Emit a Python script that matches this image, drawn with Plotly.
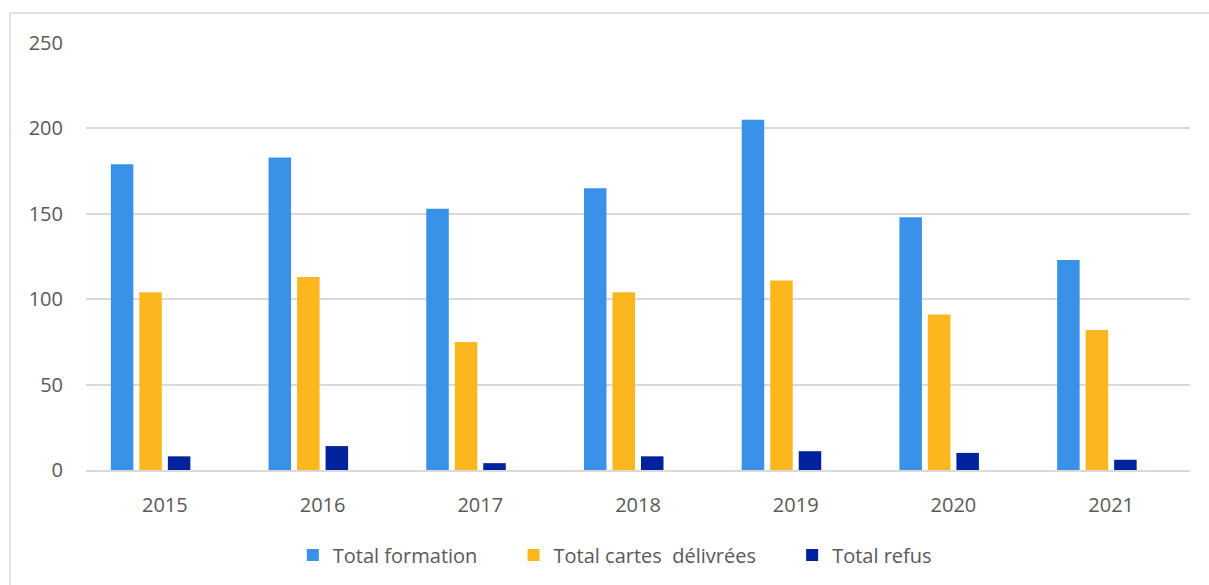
import plotly.graph_objects as go

years = ["2015", "2016", "2017", "2018", "2019", "2020", "2021"]
total_formation = [179, 183, 153, 165, 205, 148, 123]
total_cartes = [104, 113, 75, 104, 111, 91, 82]
total_refus = [8, 14, 4, 8, 11, 10, 6]
empty_series = [None] * 7

pad = "\u00a0" * 6
names = ["Total formation" + pad, "Total cartes\u00a0\u00a0délivrées" + pad, "Total refus"]
colors = ["#3A91E8", "#FDB71E", "#00229C"]

fig = go.Figure()
for name, vals, col in zip(names, [total_formation, total_cartes, total_refus], colors):
    fig.add_trace(go.Bar(x=years, y=vals, name=name, marker=dict(color=col, line=dict(width=0))))
fig.add_trace(go.Bar(x=years, y=empty_series, name="", showlegend=False, marker=dict(color="rgba(0,0,0,0)")))

font_fam = "Open Sans, Liberation Sans, sans-serif"
fig.update_layout(
    width=1209, height=585,
    margin=dict(l=86, r=19, t=43, b=114),
    paper_bgcolor="white", plot_bgcolor="white",
    barmode="group", bargap=0.277, bargroupgap=0.21,
    font=dict(family=font_fam, size=20, color="#595959"),
    showlegend=True,
    legend=dict(orientation="h", x=0.479, xanchor="center", y=-0.196, yanchor="middle",
                font=dict(size=20, color="#595959"), itemwidth=30, traceorder="normal"),
    xaxis=dict(showgrid=False, showline=True, linecolor="#D9D9D9", linewidth=1.5,
               ticks="", ticklabelstandoff=16, tickfont=dict(size=20, color="#595959")),
    yaxis=dict(range=[0, 250], tickvals=[0, 50, 100, 150, 200, 250], showgrid=True,
               gridcolor="#D9D9D9", gridwidth=1.5, zeroline=False, showline=False,
               ticks="", ticklabelstandoff=22, tickfont=dict(size=20, color="#595959")),
    shapes=[dict(type="rect", xref="paper", yref="paper", x0=(10 - 86) / 1104, x1=1.1,
                 y0=-0.4, y1=(471 - 13) / 428, line=dict(color="#D9D9D9", width=1.5),
                 fillcolor="rgba(0,0,0,0)", layer="below")],
)

fig.write_html("out.html")
